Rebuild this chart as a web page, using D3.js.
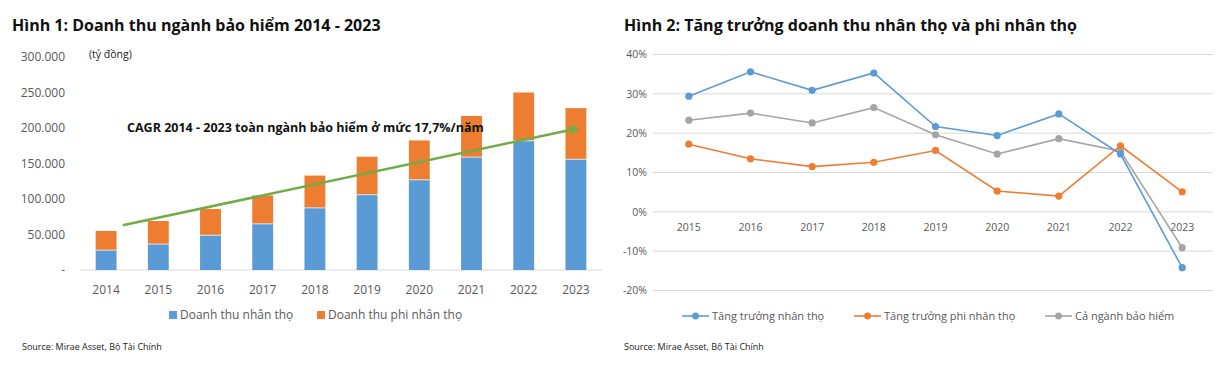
<!DOCTYPE html>
<html><head><meta charset="utf-8">
<script src="https://cdn.jsdelivr.net/npm/d3@7/dist/d3.min.js"></script>
<style>
body{margin:0;background:#fff;}
svg{display:block;font-family:"Open Sans",sans-serif;}
</style></head>
<body><svg id="c" width="1224" height="383"></svg>
<script>
// ---- Chart 1 data ----
const years1 = ["2014","2015","2016","2017","2018","2019","2020","2021","2022","2023"];
const lifeRevenue = [28000, 36500, 49000, 65000, 87500, 106000, 127000, 159000, 182000, 156000];
const nonLifeRevenue = [27000, 32500, 37000, 40000, 45500, 53500, 55500, 58000, 68000, 72000];
const yTicks1 = [0, 50000, 100000, 150000, 200000, 250000, 300000];
const yTickLabels1 = ["-", "50.000", "100.000", "150.000", "200.000", "250.000", "300.000"];
const trendPos = [0.32, 9];
const trendValues = [63000, 199000];
const legend1 = ["Doanh thu nhân thọ", "Doanh thu phi nhân thọ"];

// ---- Chart 2 data ----
const years2 = ["2015","2016","2017","2018","2019","2020","2021","2022","2023"];
const lifeGrowth = [29.4, 35.6, 30.9, 35.3, 21.7, 19.4, 24.9, 14.7, -14.2];
const nonLifeGrowth = [17.2, 13.5, 11.5, 12.6, 15.6, 5.3, 4.0, 16.8, 5.1];
const totalGrowth = [23.3, 25.1, 22.6, 26.5, 19.6, 14.7, 18.6, 15.4, -9.1];
const yTicks2 = [-20, -10, 0, 10, 20, 30, 40];
const legend2 = ["Tăng trưởng nhân thọ", "Tăng trưởng phi nhân thọ", "Cả ngành bảo hiểm"];

const BLUE = "#5B9BD5", ORANGE = "#ED7D31", GRAY = "#A5A5A5", GREEN = "#70AD47", TXT = "#595959";
const svg = d3.select("#c");

// ================= Chart 1 =================
const g1 = svg.append("g");
g1.append("text").attr("x", 12).attr("y", 31).attr("font-size", 16).attr("font-weight", 700)
  .attr("fill", "#111").text("Hình 1: Doanh thu ngành bảo hiểm 2014 - 2023");
g1.append("text").attr("x", 89).attr("y", 58).attr("font-size", 10.5).attr("fill", "#222").text("(tỷ đồng)");

const x1 = d3.scaleBand().domain(years1).range([80, 602]).paddingInner(0.6).paddingOuter(0.3);
const y1 = d3.scaleLinear().domain([0, 300000]).range([270, 57]);

g1.selectAll(".yt").data(yTicks1).join("text")
  .attr("x", 65).attr("y", d => y1(d)).attr("dy", "0.35em").attr("text-anchor", "end")
  .attr("font-size", 12).attr("fill", TXT).text((d, i) => yTickLabels1[i]);

g1.append("line").attr("x1", 80).attr("x2", 602).attr("y1", y1(0)).attr("y2", y1(0))
  .attr("stroke", "#d9d9d9").attr("stroke-width", 1);

g1.selectAll(".life").data(years1).join("rect")
  .attr("x", d => x1(d)).attr("width", x1.bandwidth())
  .attr("y", (d, i) => y1(lifeRevenue[i])).attr("height", (d, i) => y1(0) - y1(lifeRevenue[i]))
  .attr("fill", BLUE);
g1.selectAll(".nonlife").data(years1).join("rect")
  .attr("x", d => x1(d)).attr("width", x1.bandwidth())
  .attr("y", (d, i) => y1(lifeRevenue[i] + nonLifeRevenue[i]))
  .attr("height", (d, i) => y1(lifeRevenue[i]) - y1(lifeRevenue[i] + nonLifeRevenue[i]))
  .attr("fill", ORANGE);
g1.selectAll(".sep").data(years1).join("line")
  .attr("x1", d => x1(d)).attr("x2", d => x1(d) + x1.bandwidth())
  .attr("y1", (d, i) => y1(lifeRevenue[i])).attr("y2", (d, i) => y1(lifeRevenue[i]))
  .attr("stroke", "#f3f3f3").attr("stroke-width", 0.8);

g1.selectAll(".xt").data(years1).join("text")
  .attr("x", d => x1(d) + x1.bandwidth() / 2).attr("y", 290).attr("dy", "0.35em")
  .attr("text-anchor", "middle").attr("font-size", 12).attr("fill", TXT).text(d => d);

// trend line
const c0 = x1(years1[0]) + x1.bandwidth() / 2;
const tx = p => c0 + p * x1.step();
const defs = svg.append("defs");
defs.append("marker").attr("id", "arr").attr("viewBox", "0 0 10 10").attr("refX", 6).attr("refY", 5)
  .attr("markerWidth", 4).attr("markerHeight", 4).attr("orient", "auto")
  .append("path").attr("d", "M0,0 L10,5 L0,10 z").attr("fill", GREEN);
g1.append("path")
  .attr("d", d3.line()(trendPos.map((p, i) => [tx(p), y1(trendValues[i])])))
  .attr("stroke", GREEN).attr("stroke-width", 2.5).attr("fill", "none").attr("marker-end", "url(#arr)");

g1.append("text").attr("x", 127).attr("y", 132).attr("font-size", 12.5).attr("font-weight", 700)
  .attr("fill", "#111").text("CAGR 2014 - 2023 toàn ngành bảo hiểm ở mức 17,7%/năm");

// legend 1
const lg1 = [[169, BLUE], [317, ORANGE]];
lg1.forEach(([lx, col], i) => {
  g1.append("rect").attr("x", lx).attr("y", 311).attr("width", 8).attr("height", 8).attr("fill", col);
  g1.append("text").attr("x", lx + 11).attr("y", 315).attr("dy", "0.35em").attr("font-size", 12)
    .attr("fill", TXT).text(legend1[i]);
});
g1.append("text").attr("x", 22).attr("y", 350).attr("font-size", 9).attr("fill", "#222")
  .text("Source: Mirae Asset, Bộ Tài Chính");

// ================= Chart 2 =================
const g2 = svg.append("g");
g2.append("text").attr("x", 624).attr("y", 31).attr("font-size", 16).attr("font-weight", 700)
  .attr("fill", "#111").text("Hình 2: Tăng trưởng doanh thu nhân thọ và phi nhân thọ");

const x2 = d3.scaleBand().domain(years2).range([658, 1213]);
const y2 = d3.scaleLinear().domain([-20, 40]).range([290.5, 54.5]);

g2.selectAll(".grid").data(yTicks2).join("line")
  .attr("x1", 653).attr("x2", 1213).attr("y1", d => y2(d)).attr("y2", d => y2(d))
  .attr("stroke", "#d9d9d9").attr("stroke-width", 1);
g2.selectAll(".yt").data(yTicks2).join("text")
  .attr("x", 647).attr("y", d => y2(d)).attr("dy", "0.35em").attr("text-anchor", "end")
  .attr("font-size", 10.5).attr("fill", TXT).text(d => d + "%");
g2.selectAll(".xt").data(years2).join("text")
  .attr("x", d => x2(d) + x2.bandwidth() / 2).attr("y", 227).attr("dy", "0.35em")
  .attr("text-anchor", "middle").attr("font-size", 10.5).attr("fill", TXT).text(d => d);

const series2 = [[totalGrowth, GRAY], [nonLifeGrowth, ORANGE], [lifeGrowth, BLUE]];
const ln = d3.line().x((d, i) => x2(years2[i]) + x2.bandwidth() / 2).y(d => y2(d));
series2.forEach(([vals, col]) => {
  g2.append("path").attr("d", ln(vals)).attr("stroke", col).attr("stroke-width", 1.6).attr("fill", "none");
  g2.selectAll(null).data(vals).join("circle")
    .attr("cx", (d, i) => x2(years2[i]) + x2.bandwidth() / 2).attr("cy", d => y2(d))
    .attr("r", 3.6).attr("fill", col);
});

// legend 2
const lg2 = [[682, BLUE], [854, ORANGE], [1045, GRAY]];
lg2.forEach(([lx, col], i) => {
  g2.append("line").attr("x1", lx).attr("x2", lx + 27).attr("y1", 316).attr("y2", 316)
    .attr("stroke", col).attr("stroke-width", 1.6);
  g2.append("circle").attr("cx", lx + 13.5).attr("cy", 316).attr("r", 3.4).attr("fill", col);
  g2.append("text").attr("x", lx + 30).attr("y", 316).attr("dy", "0.35em").attr("font-size", 11)
    .attr("fill", TXT).text(legend2[i]);
});
g2.append("text").attr("x", 624).attr("y", 350).attr("font-size", 9).attr("fill", "#222")
  .text("Source: Mirae Asset, Bộ Tài Chính");
</script></body></html>
